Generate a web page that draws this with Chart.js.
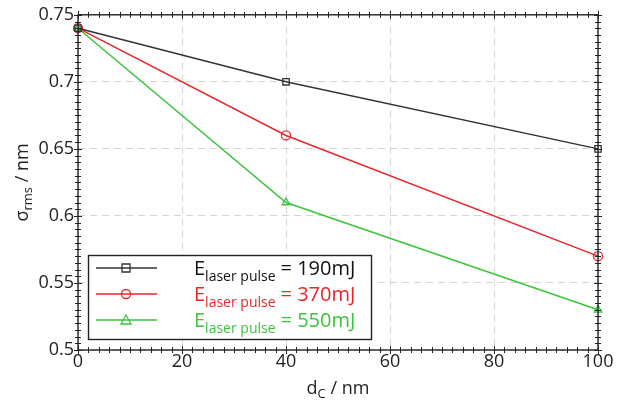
<!DOCTYPE html>
<html><head><meta charset="utf-8">
<script src="https://cdn.jsdelivr.net/npm/chart.js@4/dist/chart.umd.min.js"></script>
<style>html,body{margin:0;padding:0;background:#fff;}canvas{display:block;}</style>
</head><body>
<canvas id="c" width="618" height="407"></canvas>
<script>
const xValues = [0, 40, 100];
const series190 = [0.74, 0.70, 0.65];
const series370 = [0.74, 0.66, 0.57];
const series550 = [0.74, 0.61, 0.53];
const seriesLabels = ["= 190mJ", "= 370mJ", "= 550mJ"];
const seriesColors = ["#333333", "#e8262b", "#3cc43c"];
const seriesMarkers = ["rect", "circle", "triangle"];
const xTitle = ["d", "C", " / nm"];
const yTitle = ["σ", "rms", " / nm"];
const FONT = "'Open Sans', 'Noto Sans', sans-serif";

function mk(vals){ return xValues.map((x,i)=>({x:x,y:vals[i]})); }
const allSeries = [series190, series370, series550];
const datasets = allSeries.map((v,i)=>({
  data: mk(v), borderColor: seriesColors[i], backgroundColor: 'transparent',
  borderWidth: 1.5, pointStyle: seriesMarkers[i], pointRadius: 4.5,
  pointBorderColor: seriesColors[i], pointBackgroundColor: 'transparent', pointBorderWidth: 1.3,
  clip: false, tension: 0
}));

function drawMarker(ctx, style, x, y, color){
  ctx.save(); ctx.strokeStyle = color; ctx.lineWidth = 1.3; ctx.beginPath();
  if(style==='rect'){ ctx.rect(x-4,y-4,8,8); }
  else if(style==='circle'){ ctx.arc(x,y,4.5,0,Math.PI*2); }
  else { ctx.moveTo(x,y-5); ctx.lineTo(x+5,y+4); ctx.lineTo(x-5,y+4); ctx.closePath(); }
  ctx.stroke(); ctx.restore();
}

const decor = {
  id: 'decor',
  afterDraw(chart){
    const ctx = chart.ctx, a = chart.chartArea;
    const xs = chart.scales.x, ys = chart.scales.y;
    ctx.save();
    ctx.strokeStyle = '#222'; ctx.lineWidth = 1.4;
    ctx.strokeRect(a.left, a.top, a.right-a.left, a.bottom-a.top);
    ctx.lineWidth = 1;
    ctx.beginPath();
    for(let v=xs.min; v<=xs.max+1e-9; v+=2){
      const px = Math.round(xs.getPixelForValue(v))+0.5;
      const L = (Math.abs(v%20)<1e-9)?4:3;
      ctx.moveTo(px, a.bottom-L); ctx.lineTo(px, a.bottom+L);
      ctx.moveTo(px, a.top-L); ctx.lineTo(px, a.top+L);
    }
    for(let k=0; k<=50; k++){
      const v = ys.min + k*0.005;
      const py = Math.round(ys.getPixelForValue(v))+0.5;
      const L = (k%10===0)?4:3;
      ctx.moveTo(a.left-L, py); ctx.lineTo(a.left+L, py);
      ctx.moveTo(a.right-L, py); ctx.lineTo(a.right+L, py);
    }
    ctx.stroke();
    ctx.fillStyle = '#222'; ctx.textBaseline = 'alphabetic';
    ctx.font = '18px ' + FONT;
    const w0 = ctx.measureText(xTitle[0]).width;
    ctx.font = '13px ' + FONT;
    const w1 = ctx.measureText(xTitle[1]).width;
    ctx.font = '18px ' + FONT;
    const w2 = ctx.measureText(xTitle[2]).width;
    let cx = (a.left+a.right)/2 - (w0+w1+w2)/2, by = 394;
    ctx.fillText(xTitle[0], cx, by);
    ctx.font = '13px ' + FONT; ctx.fillText(xTitle[1], cx+w0, by+4);
    ctx.font = '18px ' + FONT; ctx.fillText(xTitle[2], cx+w0+w1, by);
    ctx.save();
    ctx.translate(28, (a.top+a.bottom)/2); ctx.rotate(-Math.PI/2);
    ctx.font = '18px ' + FONT; const v0 = ctx.measureText(yTitle[0]).width;
    ctx.font = '13px ' + FONT; const v1 = ctx.measureText(yTitle[1]).width;
    ctx.font = '18px ' + FONT; const v2 = ctx.measureText(yTitle[2]).width;
    let sx = -(v0+v1+v2)/2;
    ctx.fillText(yTitle[0], sx, 0);
    ctx.font = '13px ' + FONT; ctx.fillText(yTitle[1], sx+v0, 4);
    ctx.font = '18px ' + FONT; ctx.fillText(yTitle[2], sx+v0+v1, 0);
    ctx.restore();
    const bx = 88, bY = 255, bw = 283, bh = 84;
    ctx.fillStyle = '#fff'; ctx.fillRect(bx, bY, bw, bh);
    ctx.strokeStyle = '#222'; ctx.lineWidth = 1.4; ctx.strokeRect(bx+0.5, bY+0.5, bw, bh);
    const rows = [273, 299, 325];
    rows.forEach((ry,i)=>{
      const col = seriesColors[i] === '#333333' ? '#111' : seriesColors[i];
      ctx.strokeStyle = seriesColors[i]; ctx.lineWidth = 1.5;
      ctx.beginPath(); ctx.moveTo(96, ry-5); ctx.lineTo(157, ry-5); ctx.stroke();
      drawMarker(ctx, seriesMarkers[i], 126, ry-5, seriesColors[i]);
      ctx.fillStyle = col;
      let tx = 194;
      ctx.font = '20px ' + FONT; ctx.fillText('E', tx, ry+2); tx += ctx.measureText('E').width;
      ctx.font = '14px ' + FONT; ctx.fillText('laser pulse', tx, ry+8); tx += ctx.measureText('laser pulse').width + 5;
      ctx.font = '20px ' + FONT; ctx.fillText(seriesLabels[i], tx, ry+2);
    });
    ctx.restore();
  }
};

new Chart(document.getElementById('c'), {
  type: 'line',
  data: { datasets: datasets },
  options: {
    responsive: false, animation: false,
    layout: { padding: { top: 12, right: 20, left: 0, bottom: 0 } },
    plugins: { legend: { display: false }, tooltip: { enabled: false } },
    scales: {
      x: {
        type: 'linear', min: 0, max: 100,
        afterFit: s => { s.height = 57; },
        ticks: { stepSize: 20, color: '#222', font: { size: 18, family: FONT }, padding: 1, maxRotation: 0 },
        grid: { color: '#d4d4d4', drawTicks: false, lineWidth: 1 },
        border: { display: false, dash: [7,5] }
      },
      y: {
        type: 'linear', min: 0.5, max: 0.75,
        afterFit: s => { s.width = 78; },
        ticks: { stepSize: 0.05, color: '#222', font: { size: 18, family: FONT }, padding: 4,
                 callback: v => String(Number(v.toFixed(3))) },
        grid: { color: '#d4d4d4', drawTicks: false, lineWidth: 1 },
        border: { display: false, dash: [7,5] }
      }
    }
  },
  plugins: [decor]
});
</script>
</body></html>
